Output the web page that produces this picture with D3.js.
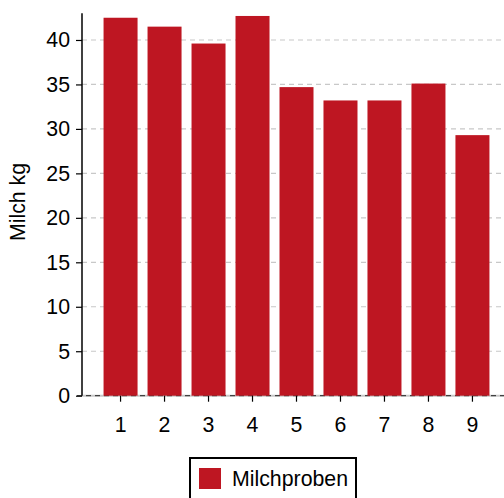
<!DOCTYPE html>
<html>
<head>
<meta charset="utf-8">
<script src="https://cdn.jsdelivr.net/npm/d3@7"></script>
<style>
  body { margin: 0; background: #fff; }
  svg { display: block; font-family: "Liberation Sans", Arial, sans-serif; }
</style>
</head>
<body>
<svg id="chart"></svg>
<script>
const samples = ['1', '2', '3', '4', '5', '6', '7', '8', '9'];
const milk = [42.5, 41.5, 39.6, 42.7, 34.7, 33.2, 33.2, 35.1, 29.3];
const yTicks = [0, 5, 10, 15, 20, 25, 30, 35, 40];
const seriesName = 'Milchproben';
const yLabel = 'Milch kg';

const width = 504, height = 498;
const plotLeft = 82, plotRight = 511, plotTop = 13.3, plotBottom = 395.7;
const barColor = '#be1622';
const fontSize = 21.3;
const fontFam = '"Liberation Sans", Arial, sans-serif';

const svg = d3.select('#chart')
  .attr('width', width)
  .attr('height', height);

const x = d3.scaleBand()
  .domain(samples)
  .range([plotLeft, plotRight])
  .paddingInner(0.227)
  .paddingOuter(0.49);

const y = d3.scaleLinear()
  .domain([0, 43])
  .range([plotBottom, plotTop]);

// grid
svg.append('g')
  .selectAll('line')
  .data(yTicks.filter(d => d > 0))
  .join('line')
  .attr('x1', plotLeft)
  .attr('x2', width)
  .attr('y1', d => y(d))
  .attr('y2', d => y(d))
  .attr('stroke', '#c8c8c8')
  .attr('stroke-width', 1.2)
  .attr('stroke-dasharray', '5,4');

// zero line (grey under dark dashes)
svg.append('line')
  .attr('x1', plotLeft).attr('x2', width)
  .attr('y1', y(0)).attr('y2', y(0))
  .attr('stroke', '#c8c8c8').attr('stroke-width', 2);
svg.append('line')
  .attr('x1', plotLeft - 5).attr('x2', width)
  .attr('y1', y(0)).attr('y2', y(0))
  .attr('stroke', '#222').attr('stroke-width', 1)
  .attr('stroke-dasharray', '5,4');

// bars
svg.append('g')
  .selectAll('rect')
  .data(milk)
  .join('rect')
  .attr('x', (d, i) => x(samples[i]))
  .attr('width', x.bandwidth())
  .attr('y', d => y(d))
  .attr('height', d => y(0) - y(d))
  .attr('fill', barColor);

// y axis
const yAxis = svg.append('g')
  .attr('transform', `translate(${plotLeft},0)`)
  .call(d3.axisLeft(y).tickValues(yTicks).tickSize(6).tickSizeOuter(0).tickPadding(6));
yAxis.select('.domain').attr('stroke', '#000').attr('stroke-width', 1.5)
  .attr('d', `M0,${plotTop}V${plotBottom}`);
yAxis.selectAll('.tick line').attr('stroke', '#000').attr('stroke-width', 1.2);
yAxis.selectAll('.tick text')
  .attr('font-size', fontSize)
  .attr('fill', '#000')
  .attr('font-family', fontFam);

// x axis
const xAxis = svg.append('g')
  .attr('transform', `translate(0,${plotBottom})`)
  .call(d3.axisBottom(x).tickSize(6).tickSizeOuter(0).tickPadding(15));
xAxis.select('.domain').remove();
xAxis.selectAll('.tick line').attr('stroke', '#000').attr('stroke-width', 1.2);
xAxis.selectAll('.tick text')
  .attr('font-size', fontSize)
  .attr('fill', '#000')
  .attr('font-family', fontFam);

// y label
svg.append('text')
  .attr('transform', `translate(25,202) rotate(-90)`)
  .attr('text-anchor', 'middle')
  .attr('font-size', fontSize)
  .attr('fill', '#000')
  .text(yLabel);

// legend
const legend = svg.append('g');
legend.append('rect')
  .attr('x', 190).attr('y', 458)
  .attr('width', 166).attr('height', 50)
  .attr('fill', '#fff')
  .attr('stroke', '#000')
  .attr('stroke-width', 2);
legend.append('rect')
  .attr('x', 199).attr('y', 468)
  .attr('width', 22).attr('height', 21)
  .attr('fill', barColor);
legend.append('text')
  .attr('x', 232).attr('y', 486)
  .attr('font-size', fontSize)
  .attr('fill', '#000')
  .text(seriesName);
</script>
</body>
</html>
